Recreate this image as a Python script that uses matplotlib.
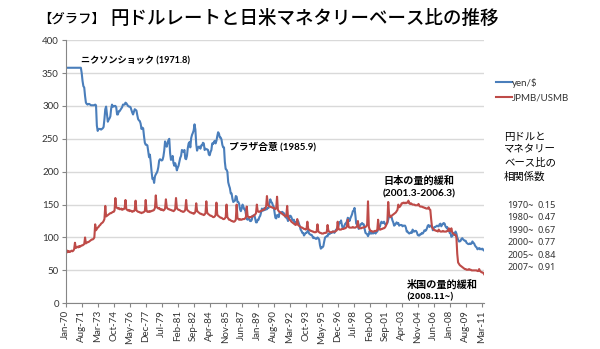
import numpy as np
import matplotlib
matplotlib.use('Agg')
import matplotlib.pyplot as plt

plt.rcParams['font.family'] = ['Lato', 'Noto Sans CJK JP', 'DejaVu Sans']
plt.rcParams['axes.unicode_minus'] = False

# 円ドルレート（月次、1970年1月～2011年6月）
yen_usd = [
    358, 358, 358, 358, 358, 358, 358, 358, 358, 358, 358, 358,  # 1970
    358, 358, 358, 358, 358, 358, 358, 350, 338, 330, 328, 315,  # 1971
    305, 303, 302, 303, 303, 302, 301, 301, 301, 301, 301, 302,  # 1972
    301, 270, 262, 265, 265, 265, 264, 265, 266, 268, 280, 295,  # 1973
    299, 287, 276, 279, 281, 284, 296, 302, 299, 299, 300, 300,  # 1974
    298, 287, 287, 292, 292, 294, 296, 298, 302, 302, 302, 305,  # 1975
    304, 302, 300, 299, 299, 298, 294, 290, 287, 291, 295, 294,  # 1976
    293, 286, 280, 278, 277, 273, 265, 267, 266, 254, 244, 241,  # 1977
    241, 240, 231, 222, 226, 214, 200, 189, 190, 183, 193, 196,  # 1978
    198, 201, 207, 217, 219, 218, 217, 218, 223, 232, 246, 240,  # 1979
    238, 244, 248, 250, 228, 218, 219, 224, 213, 209, 213, 209,  # 1980
    202, 206, 209, 215, 221, 224, 233, 232, 230, 233, 220, 219,  # 1981
    224, 236, 243, 245, 237, 251, 256, 259, 263, 272, 264, 242,  # 1982
    232, 236, 238, 238, 235, 240, 240, 244, 243, 233, 235, 234,  # 1983
    234, 233, 226, 225, 230, 233, 243, 242, 245, 247, 243, 247,  # 1984
    254, 260, 258, 252, 252, 249, 241, 237, 237, 215, 204, 203,  # 1985
    200, 184, 179, 175, 167, 167, 159, 154, 155, 156, 163, 162,  # 1986
    154, 154, 151, 143, 140, 144, 150, 147, 143, 143, 135, 128,  # 1987
    127, 129, 128, 125, 125, 127, 133, 133, 134, 129, 123, 123,  # 1988
    127, 127, 131, 133, 138, 144, 141, 141, 145, 142, 143, 143,  # 1989
    145, 145, 153, 158, 154, 153, 149, 147, 139, 130, 129, 134,  # 1990
    134, 131, 138, 138, 138, 139, 138, 137, 135, 131, 130, 129,  # 1991
    125, 128, 133, 133, 131, 127, 126, 127, 122, 122, 124, 124,  # 1992
    125, 121, 117, 112, 110, 107, 107, 103, 105, 107, 107, 109,  # 1993
    111, 106, 105, 104, 104, 102, 99, 100, 99, 98, 98, 100,      # 1994
    99, 97, 88, 83, 85, 85, 87, 94, 100, 101, 102, 102,          # 1995
    106, 105, 106, 107, 107, 109, 109, 107, 109, 112, 112, 114,  # 1996
    118, 123, 122, 126, 119, 114, 115, 118, 121, 121, 125, 130,  # 1997
    129, 125, 129, 132, 135, 140, 141, 145, 134, 121, 120, 117,  # 1998
    113, 116, 120, 120, 122, 120, 120, 113, 107, 106, 105, 102,  # 1999
    105, 110, 106, 106, 108, 106, 108, 108, 106, 108, 109, 112,  # 2000
    117, 116, 121, 124, 122, 122, 124, 121, 119, 121, 122, 127,  # 2001
    132, 133, 131, 131, 126, 123, 118, 119, 121, 123, 121, 122,  # 2002
    118, 119, 119, 119, 117, 118, 118, 118, 115, 109, 109, 107,  # 2003
    106, 107, 108, 107, 112, 109, 109, 110, 110, 108, 104, 103,  # 2004
    103, 105, 105, 107, 106, 108, 111, 110, 111, 114, 118, 119,  # 2005
    116, 118, 117, 117, 111, 114, 116, 116, 117, 118, 117, 117,  # 2006
    120, 121, 117, 119, 121, 122, 121, 117, 115, 116, 111, 112,  # 2007
    107, 107, 101, 102, 104, 107, 106, 109, 106, 100, 97, 94,    # 2008
    94, 95, 98, 99, 97, 96, 95, 95, 92, 91, 90, 90,              # 2009
    91, 90, 91, 94, 92, 91, 88, 86, 85, 82, 83, 84,              # 2010
    82, 83, 82, 83, 81, 80,                                      # 2011
]

# 日本のマネタリーベース/米国のマネタリーベース
jpmb_usmb = [
    75, 77, 80, 78, 79, 78, 79, 80, 79, 80, 82, 92,              # 1970
    84, 85, 86, 85, 87, 86, 87, 88, 88, 89, 90, 100,             # 1971
    91, 92, 93, 93, 94, 95, 96, 97, 97, 98, 100, 120,            # 1972
    111, 113, 115, 116, 118, 119, 121, 122, 123, 125, 128, 148,  # 1973
    132, 133, 134, 135, 136, 137, 137, 138, 139, 139, 141, 160,  # 1974
    146, 145, 144, 145, 143, 143, 144, 142, 143, 143, 145, 157,  # 1975
    143, 142, 141, 142, 140, 141, 140, 139, 140, 140, 142, 156,  # 1976
    141, 140, 139, 139, 138, 138, 137, 138, 138, 139, 140, 157,  # 1977
    141, 139, 139, 140, 139, 140, 140, 141, 141, 142, 145, 164,  # 1978
    147, 145, 144, 145, 143, 142, 143, 142, 141, 142, 144, 158,  # 1979
    146, 144, 143, 143, 142, 142, 141, 141, 140, 141, 143, 160,  # 1980
    145, 143, 142, 142, 141, 140, 140, 139, 139, 140, 142, 157,  # 1981
    143, 141, 140, 139, 138, 138, 137, 137, 136, 137, 139, 152,  # 1982
    141, 139, 138, 137, 136, 136, 135, 135, 134, 135, 137, 155,  # 1983
    138, 136, 135, 134, 133, 133, 132, 131, 131, 132, 134, 153,  # 1984
    135, 133, 132, 131, 130, 130, 129, 128, 128, 129, 131, 150,  # 1985
    131, 129, 127, 127, 126, 125, 125, 124, 124, 125, 127, 150,  # 1986
    130, 128, 127, 128, 127, 127, 128, 128, 128, 129, 131, 147,  # 1987
    133, 131, 130, 131, 131, 132, 132, 133, 134, 135, 137, 150,  # 1988
    140, 139, 139, 140, 140, 141, 142, 142, 143, 144, 147, 163,  # 1989
    150, 148, 147, 147, 146, 146, 145, 145, 144, 143, 145, 162,  # 1990
    142, 140, 139, 138, 137, 136, 135, 134, 133, 132, 133, 148,  # 1991
    131, 129, 127, 126, 124, 123, 122, 121, 120, 119, 120, 128,  # 1992
    119, 118, 117, 116, 115, 115, 114, 113, 113, 112, 113, 124,  # 1993
    113, 112, 111, 110, 110, 109, 109, 108, 108, 108, 109, 120,  # 1994
    109, 108, 107, 107, 106, 106, 106, 107, 107, 107, 108, 119,  # 1995
    110, 109, 108, 108, 108, 109, 109, 109, 109, 110, 111, 124,  # 1996
    113, 112, 112, 112, 113, 113, 113, 114, 114, 115, 117, 127,  # 1997
    116, 115, 115, 115, 115, 116, 115, 115, 115, 116, 117, 125,  # 1998
    115, 114, 114, 114, 115, 115, 115, 116, 116, 117, 120, 155,  # 1999
    116, 112, 110, 110, 109, 109, 109, 110, 110, 110, 111, 127,  # 2000
    114, 112, 112, 113, 113, 114, 114, 115, 117, 120, 124, 154,  # 2001
    136, 132, 131, 133, 134, 135, 136, 137, 138, 140, 142, 150,  # 2002
    146, 147, 149, 152, 152, 153, 152, 153, 152, 153, 153, 156,  # 2003
    152, 151, 152, 151, 150, 150, 150, 149, 149, 149, 149, 151,  # 2004
    148, 147, 147, 147, 146, 146, 145, 145, 144, 144, 144, 146,  # 2005
    143, 142, 128, 116, 114, 112, 111, 111, 110, 110, 109, 112,  # 2006
    110, 109, 109, 109, 110, 109, 109, 109, 109, 110, 110, 114,  # 2007
    110, 110, 114, 108, 106, 105, 104, 104, 100, 75, 62, 60,     # 2008
    58, 57, 56, 55, 54, 53, 52, 52, 51, 51, 51, 52,              # 2009
    51, 51, 50, 50, 50, 50, 50, 50, 50, 49, 49, 52,              # 2010
    49, 48, 47, 47, 46, 44,                                      # 2011
]

tick_labels = ['Jan-70', 'Aug-71', 'Mar-73', 'Oct-74', 'May-76', 'Dec-77', 'Jul-79',
               'Feb-81', 'Sep-82', 'Apr-84', 'Nov-85', 'Jun-87', 'Jan-89', 'Aug-90',
               'Mar-92', 'Oct-93', 'May-95', 'Dec-96', 'Jul-98', 'Feb-00', 'Sep-01',
               'Apr-03', 'Nov-04', 'Jun-06', 'Jan-08', 'Aug-09', 'Mar-11']

corr_periods = ['1970~', '1980~', '1990~', '2000~', '2005~', '2007~']
corr_values = [0.15, 0.47, 0.67, 0.77, 0.84, 0.91]

months = np.arange(len(yen_usd))
tilde_font = ['Noto Sans', 'Noto Sans CJK JP']

fig = plt.figure(figsize=(6.0, 3.49), dpi=100)
ax = fig.add_axes([0.1095, 0.131, 0.6975, 0.754])

ax.plot(months, yen_usd, color='#4a7ebb', linewidth=1.5, label='yen/$')
ax.plot(months, jpmb_usmb, color='#be4b48', linewidth=1.5, label='JPMB/USMB')

ax.set_ylim(0, 400)
ax.set_yticks(np.arange(0, 401, 50))
ax.set_xlim(0, len(yen_usd) - 1)
ax.set_xticks(np.arange(0, len(yen_usd), 19))
ax.set_xticklabels(tick_labels, rotation=90)
ax.grid(axis='y', color='#d9d9d9', linewidth=1)
ax.set_axisbelow(True)
for s in ['top', 'right']:
    ax.spines[s].set_visible(False)
for s in ['left', 'bottom']:
    ax.spines[s].set_color('#868686')
    ax.spines[s].set_linewidth(0.8)
ax.tick_params(axis='x', labelsize=7, colors='#868686', labelcolor='#333333',
               length=3, width=0.8, pad=2)
ax.tick_params(axis='y', labelsize=7, colors='#868686', labelcolor='#333333',
               length=3, width=0.8, pad=2)

# 注記
ax.text(18, 361, 'ニクソンショック (1971.8)', fontsize=6.6, fontweight='bold', va='bottom')
ax.text(194, 238, 'プラザ合意 (1985.9)', fontsize=7, fontweight='bold', va='center')
ax.text(420, 186, '日本の量的緩和', fontsize=7.3, fontweight='bold', ha='center', va='center')
ax.text(420, 166, '(2001.3-2006.3)', fontsize=7.3, fontweight='bold', ha='center', va='center')
ax.text(405, 28, '米国の量的緩和', fontsize=7.3, fontweight='bold', va='center')
ax.text(405, 10, '(2008.11~)', fontsize=6.6, fontweight='bold', va='center',
        family=['Noto Sans CJK JP'])

fig.legend(loc='upper left', bbox_to_anchor=(0.812, 0.803), frameon=False,
           fontsize=7, handlelength=1.6, handletextpad=0.05, labelspacing=0.65,
           labelcolor='#333333')

# 相関係数
fig.text(0.84, 1 - 133 / 349, '円ドルと\nマネタリー\nベース比の\n相関係数', fontsize=7.5,
         va='top', linespacing=1.45)
for i in range(len(corr_periods)):
    y = 1 - (205 + i * 12.6) / 349
    fig.text(0.845, y, corr_periods[i], fontsize=6.6, color='#333333', va='center',
             family=tilde_font)
    fig.text(0.895, y, '%.2f' % corr_values[i], fontsize=6.6, color='#333333', va='center',
             family=tilde_font)

fig.text(38 / 600, 1 - 18 / 349, '【グラフ】', fontsize=9.6, fontweight='medium', va='center')
fig.text(110 / 600, 1 - 18 / 349, '円ドルレートと日米マネタリーベース比の推移', fontsize=13.3,
         fontweight='medium', va='center')

plt.savefig('out.png', dpi=100)
